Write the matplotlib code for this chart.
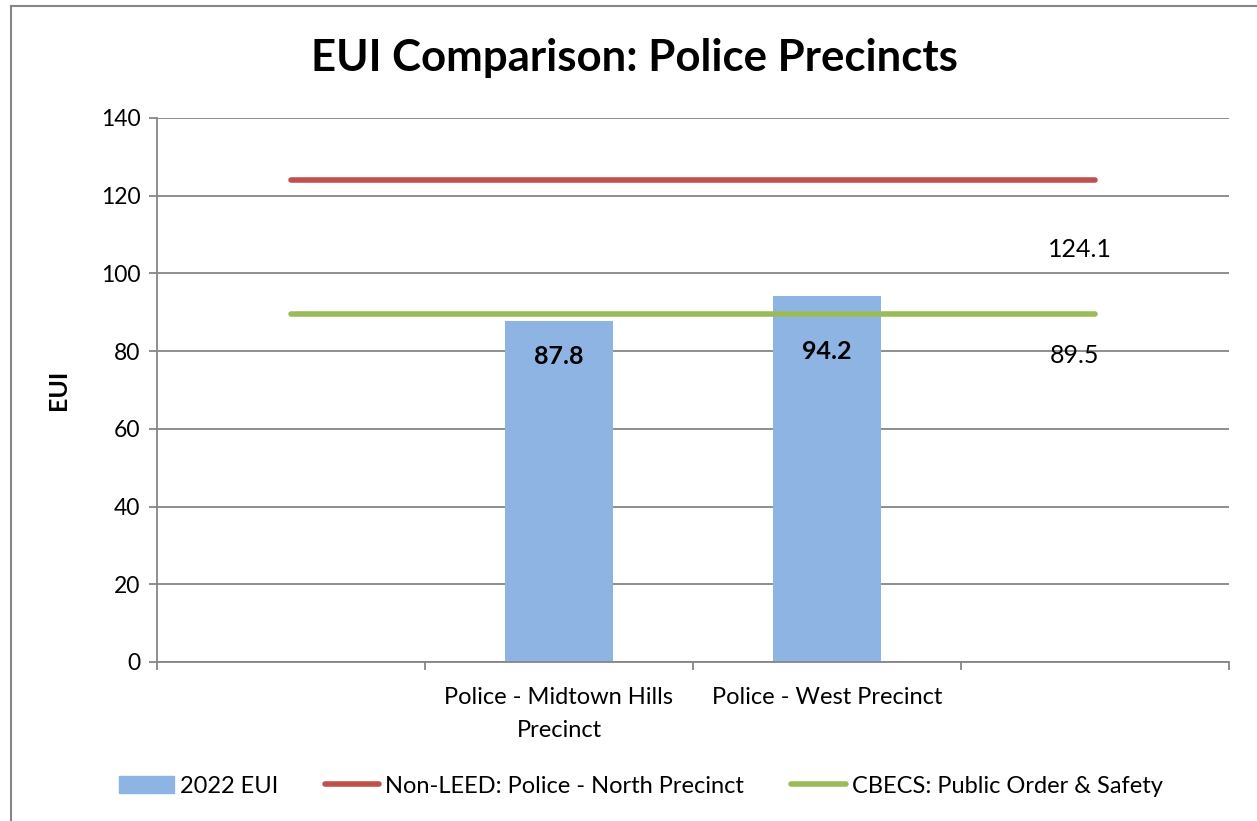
import matplotlib
matplotlib.use("Agg")
import matplotlib.pyplot as plt
import numpy as np
from matplotlib.patches import Patch, Rectangle
from matplotlib.lines import Line2D

# chart values
categories = ["", "Police - Midtown Hills\nPrecinct", "Police - West Precinct", ""]
eui_2022 = [np.nan, 87.8, 94.2, np.nan]
non_leed = [124.1, 124.1, 124.1, 124.1]
cbecs = [89.5, 89.5, 89.5, 89.5]

plt.rcParams['font.family'] = ['Lato', 'DejaVu Sans']

bar_col = '#8eb4e3'
red = '#c0504d'
green = '#9bbb59'
grid_col = '#868686'

fig = plt.figure(figsize=(12.57, 8.21), dpi=100)
ax = fig.add_axes([157/1257, 1-662/821, 1072/1257, 544/821])

x = np.arange(len(categories))
ax.bar(x, eui_2022, width=0.4, color=bar_col, zorder=2)
ax.plot(x, non_leed, color=red, lw=4, solid_capstyle='round', zorder=3)
ax.plot(x, cbecs, color=green, lw=4, solid_capstyle='round', zorder=3)

# value labels
for xi, v in zip(x, eui_2022):
    if not np.isnan(v):
        off = -26 if v < 90 else -40
        ax.annotate(f"{v:.1f}", (xi, v), xytext=(0, off), textcoords='offset points',
                    ha='center', va='center', fontsize=18, fontweight='bold')
ax.annotate(f"{non_leed[-1]:.1f}", (x[-1], non_leed[-1]), xytext=(-11, -50),
            textcoords='offset points', ha='center', va='center', fontsize=18)
ax.annotate(f"{cbecs[-1]:.1f}", (x[-1], cbecs[-1]), xytext=(-15, -30),
            textcoords='offset points', ha='center', va='center', fontsize=18)

ax.set_xlim(-0.5, 3.5)
ax.set_ylim(0, 140)
ax.set_yticks(range(0, 141, 20))
ax.yaxis.grid(True, color=grid_col, lw=1.3, zorder=0)
ax.set_axisbelow(True)

ax.set_xticks(np.arange(-0.5, 3.6, 1))
ax.set_xticklabels([])
ax.set_xticks(x, minor=True)
ax.set_xticklabels(categories, minor=True, fontsize=17, linespacing=1.7)
ax.tick_params(axis='x', which='minor', length=0, pad=18)
ax.tick_params(axis='x', which='major', length=6, color=grid_col, width=1.3)
ax.tick_params(axis='y', length=6, color=grid_col, width=1.3, labelsize=16.5, pad=6)

for s in ['top', 'right']:
    ax.spines[s].set_visible(False)
for s in ['left', 'bottom']:
    ax.spines[s].set_color(grid_col)
    ax.spines[s].set_linewidth(1.3)

ax.set_ylabel("EUI", fontsize=18, fontweight='bold', labelpad=22)
fig.text(634/1257, 1-58/821, "EUI Comparison: Police Precincts", ha='center', va='center',
         fontsize=31.5, fontweight='bold')

handles = [Patch(color=bar_col),
           Line2D([], [], color=red, lw=4, solid_capstyle='round'),
           Line2D([], [], color=green, lw=4, solid_capstyle='round')]
labels = ["2022 EUI", "Non-LEED: Police - North Precinct", "CBECS: Public Order & Safety"]
fig.legend(handles, labels, loc='center', bbox_to_anchor=(641/1257, 1-786/821), ncol=3,
           frameon=False, fontsize=17, handlelength=2.3, handleheight=0.7,
           handletextpad=0.25, columnspacing=2.0)

# outer chart border
fig.add_artist(Rectangle((11/1257, -0.1), 1.2, 1.1 - 6/821, transform=fig.transFigure,
                         fill=False, edgecolor=grid_col, lw=1.5))

fig.savefig("out.png", dpi=100)
